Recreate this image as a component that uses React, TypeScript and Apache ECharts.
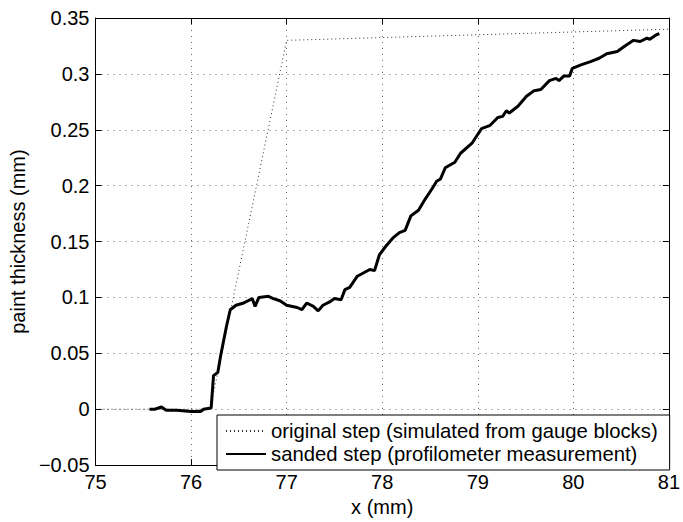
import React, { useEffect, useRef } from "react";
import * as echarts from "echarts";

const xTicks = [75, 76, 77, 78, 79, 80, 81];
const yTicks = [-0.05, 0, 0.05, 0.1, 0.15, 0.2, 0.25, 0.3, 0.35];

const originalName = "original step (simulated from gauge blocks)";
const sandedName = "sanded step (profilometer measurement)";

const originalX = [75, 76.2, 77, 81];
const originalY = [0, 0, 0.33, 0.34];

const sandedX = [
  75.565, 75.62, 75.69, 75.74, 75.85, 76.0, 76.1, 76.13, 76.21, 76.235,
  76.28, 76.31, 76.37, 76.41, 76.47, 76.55, 76.64, 76.67, 76.71, 76.81,
  76.86, 76.93, 77.0, 77.11, 77.16, 77.21, 77.28, 77.33, 77.38, 77.45,
  77.5, 77.57, 77.61, 77.66, 77.74, 77.87, 77.92, 77.97, 78.04, 78.11,
  78.18, 78.24, 78.3, 78.38, 78.45, 78.52, 78.57, 78.61, 78.66, 78.76,
  78.82, 78.94, 78.97, 79.04, 79.13, 79.21, 79.26, 79.3, 79.33, 79.42,
  79.51, 79.59, 79.66, 79.75, 79.82, 79.85, 79.9, 79.96, 79.99, 80.08,
  80.18, 80.27, 80.35, 80.46, 80.54, 80.63, 80.7, 80.77, 80.8, 80.87, 80.9,
];
const sandedY = [
  0.0, 0.0, 0.002, -0.001, -0.001, -0.002, -0.002, 0.0, 0.001, 0.03,
  0.033, 0.048, 0.074, 0.089, 0.093, 0.095, 0.099, 0.092, 0.1, 0.101,
  0.099, 0.097, 0.093, 0.091, 0.089, 0.095, 0.092, 0.088, 0.093, 0.096,
  0.099, 0.098, 0.107, 0.109, 0.119, 0.125, 0.124, 0.138, 0.146, 0.153,
  0.158, 0.16, 0.173, 0.178, 0.188, 0.197, 0.204, 0.206, 0.216, 0.221,
  0.229, 0.238, 0.242, 0.251, 0.254, 0.261, 0.262, 0.267, 0.265, 0.271,
  0.28, 0.285, 0.286, 0.294, 0.296, 0.294, 0.298, 0.298, 0.305, 0.308,
  0.311, 0.314, 0.318, 0.32, 0.325, 0.33, 0.329, 0.332, 0.331, 0.335, 0.336,
];

const FONT = "'Liberation Sans', Arial, Helvetica, sans-serif";

function fmtY(v: number): string {
  const r = Math.round(v * 100) / 100;
  if (Math.abs(r) < 1e-9) return "0";
  return r < 0 ? "\u2212" + String(Math.abs(r)) : String(r);
}

export default function App() {
  const ref = useRef<HTMLDivElement>(null);
  useEffect(() => {
    if (!ref.current) return;
    const chart = echarts.init(ref.current, null, { renderer: "svg" });
    const xMin = xTicks[0];
    const xMax = xTicks[xTicks.length - 1];
    const yMin = yTicks[0];
    const yMax = yTicks[yTicks.length - 1];
    const gridLine = { show: true, lineStyle: { color: "#666", width: 1, type: [1, 5] as any } };
    const axisLine = { show: true, onZero: false, lineStyle: { color: "#000", width: 1 } };
    const tick = { show: true, inside: true, length: 6, lineStyle: { color: "#000", width: 1 } };
    chart.setOption({
      animation: false,
      backgroundColor: "#fff",
      textStyle: { fontFamily: FONT, color: "#000" },
      grid: { left: 93, right: 10, top: 18, bottom: 48, containLabel: false },
      legend: {
        orient: "vertical",
        left: 217,
        top: 415,
        backgroundColor: "#fff",
        borderColor: "#000",
        borderWidth: 1,
        padding: [6, 12, 6, 8],
        itemGap: 3,
        itemWidth: 40,
        itemHeight: 10,
        itemStyle: { opacity: 0 },
        textStyle: { fontFamily: FONT, fontSize: 20.3, color: "#000", lineHeight: 20 },
        data: [originalName, sandedName],
      },
      xAxis: [
        {
          type: "value",
          min: xMin,
          max: xMax,
          interval: 1,
          name: "x (mm)",
          nameLocation: "middle",
          nameGap: 24,
          nameTextStyle: { fontFamily: FONT, fontSize: 20, color: "#000" },
          axisLine,
          axisTick: tick,
          axisLabel: { fontFamily: FONT, fontSize: 20, color: "#000", margin: 7 },
          splitLine: gridLine,
        },
        {
          type: "value",
          position: "top",
          min: xMin,
          max: xMax,
          interval: 1,
          axisLine,
          axisTick: tick,
          axisLabel: { show: false },
          splitLine: { show: false },
        },
      ],
      yAxis: [
        {
          type: "value",
          min: yMin,
          max: yMax,
          interval: 0.05,
          name: "paint thickness (mm)",
          nameLocation: "middle",
          nameGap: 58,
          nameRotate: 90,
          nameTextStyle: { fontFamily: FONT, fontSize: 20, color: "#000" },
          axisLine,
          axisTick: tick,
          axisLabel: { fontFamily: FONT, fontSize: 20, color: "#000", margin: 6, formatter: fmtY },
          splitLine: gridLine,
        },
        {
          type: "value",
          position: "right",
          min: yMin,
          max: yMax,
          interval: 0.05,
          axisLine,
          axisTick: tick,
          axisLabel: { show: false },
          splitLine: { show: false },
        },
      ],
      series: [
        {
          name: originalName,
          type: "line",
          showSymbol: false,
          symbol: "none",
          symbolSize: 0,
          lineStyle: { color: "#333", width: 1, type: [1, 3] as any },
          itemStyle: { color: "#333" },
          data: originalX.map((x, i) => [x, originalY[i]]),
          z: 2,
        },
        {
          name: sandedName,
          type: "line",
          showSymbol: false,
          symbol: "none",
          symbolSize: 0,
          lineStyle: { color: "#000", width: 3 },
          itemStyle: { color: "#000" },
          data: sandedX.map((x, i) => [x, sandedY[i]]),
          z: 3,
        },
      ],
    });
    return () => chart.dispose();
  }, []);
  return (
    <div
      ref={ref}
      style={{ position: "fixed", left: 0, top: 0, width: 683, height: 522, background: "#fff" }}
    />
  );
}
